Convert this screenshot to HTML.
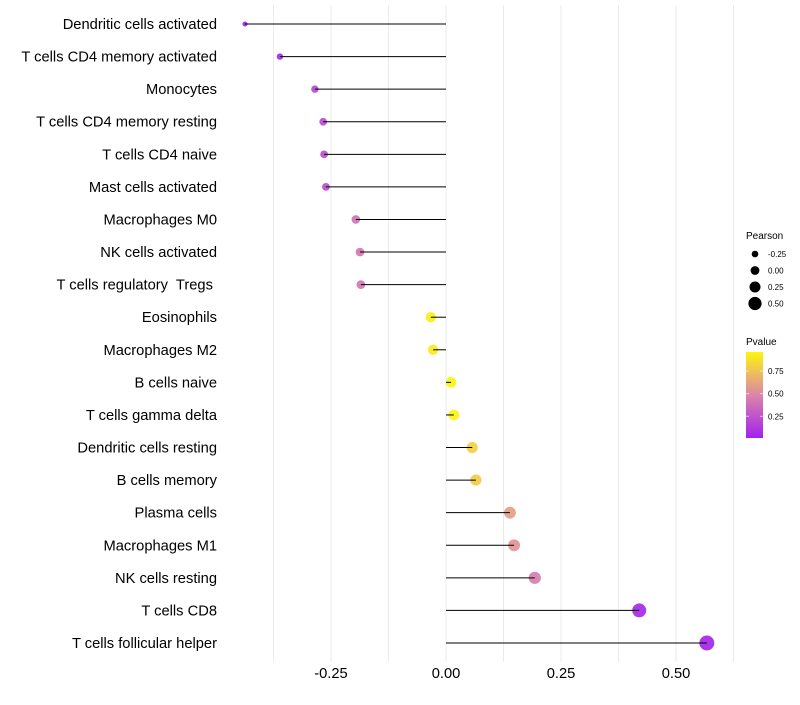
<!DOCTYPE html>
<html><head><meta charset="utf-8"><style>
body{margin:0;background:#fff;font-family:"Liberation Sans",sans-serif}
</style></head><body>
<svg id="chart" width="800" height="700" xmlns="http://www.w3.org/2000/svg" font-family="Liberation Sans, sans-serif">
<g id="grid"></g>
<g id="marks"></g>
<g id="ylabels"></g>
<g id="xlabels"></g>
<g id="legend"></g>
</svg>
<script>
const categories=["Dendritic cells activated","T cells CD4 memory activated","Monocytes","T cells CD4 memory resting","T cells CD4 naive","Mast cells activated","Macrophages M0","NK cells activated","T cells regulatory  Tregs ","Eosinophils","Macrophages M2","B cells naive","T cells gamma delta","Dendritic cells resting","B cells memory","Plasma cells","Macrophages M1","NK cells resting","T cells CD8","T cells follicular helper"];
const pearson=[-0.437,-0.361,-0.285,-0.267,-0.265,-0.261,-0.196,-0.187,-0.185,-0.033,-0.028,0.011,0.017,0.057,0.065,0.139,0.148,0.193,0.42,0.567];
const pvalue=[0.02,0.06,0.2,0.22,0.22,0.22,0.4,0.42,0.42,0.93,0.91,0.96,0.95,0.8,0.78,0.6,0.56,0.45,0.05,0.03];
const xTicks=[-0.25,0,0.25,0.5];
const xTickLabels=["-0.25","0.00","0.25","0.50"];
const gridVals=[-0.375,-0.25,-0.125,0,0.125,0.25,0.375,0.5,0.625];
const sizeLegend=[-0.25,0,0.25,0.5];
const sizeLegendLabels=["-0.25","0.00","0.25","0.50"];
const colorLegendVals=[0.25,0.5,0.75];

const NS="http://www.w3.org/2000/svg";
const x=v=>446+v*460;
const y=i=>24+i*(643-24)/19;
const r=v=>Math.sqrt(Math.max(2,28.1+49.3*v));
function lerp(a,b,t){return a.map((c,k)=>Math.round(c+(b[k]-c)*t));}
function col(p){
  const s=[[160,32,240],[221,136,168],[255,255,0]];
  let c=p<0.5?lerp(s[0],s[1],p/0.5):lerp(s[1],s[2],(p-0.5)/0.5);
  return `rgb(${c[0]},${c[1]},${c[2]})`;
}
function mk(tag,attrs,parent){const e=document.createElementNS(NS,tag);for(const k in attrs)e.setAttribute(k,attrs[k]);parent.appendChild(e);return e;}
const grid=document.getElementById('grid'),marks=document.getElementById('marks'),yl=document.getElementById('ylabels'),xl=document.getElementById('xlabels'),lg=document.getElementById('legend');
gridVals.forEach(v=>{
  const l=mk('line',{x1:x(v),x2:x(v),y1:5,y2:662,stroke:'#ebebeb','stroke-width':1},grid);
  
  
});
categories.forEach((c,i)=>{
  const cy=y(i);
  const pt=mk('circle',{cx:x(pearson[i]),cy:cy,r:r(pearson[i]),fill:col(pvalue[i]),'fill-opacity':0.92},marks);
  
  
  const ln=mk('line',{x1:x(0),x2:x(pearson[i]),y1:cy,y2:cy,stroke:'#000','stroke-width':1},marks);
  
  
  const t=mk('text',{x:217,y:cy+5,'text-anchor':'end','font-size':14.7,fill:'#000',style:'white-space:pre'},yl);
  t.textContent=c;
  
  
});
xTicks.forEach((v,i)=>{
  const t=mk('text',{x:x(v),y:678,'text-anchor':'middle','font-size':14.7,fill:'#000'},xl);
  t.textContent=xTickLabels[i];
  
  
});
let t=mk('text',{x:746,y:239,'font-size':10,fill:'#000'},lg);t.textContent='Pearson';


sizeLegend.forEach((v,i)=>{
  const cy=254+i*16.5;
  const c=mk('circle',{cx:755,cy:cy,r:3.3+i*1.1,fill:'#000'},lg);
  
  
  const tt=mk('text',{x:768,y:cy+3,'font-size':8,fill:'#000'},lg);tt.textContent=sizeLegendLabels[i];
  
  
});
t=mk('text',{x:746,y:345,'font-size':10,fill:'#000'},lg);t.textContent='Pvalue';


const defs=mk('defs',{},lg);
const g=mk('linearGradient',{id:'pg',x1:0,y1:1,x2:0,y2:0},defs);
[0,0.25,0.5,0.75,1].forEach(s=>mk('stop',{offset:s,'stop-color':col(0.01+s*0.95)},g));
const bar=mk('rect',{x:746,y:352,width:17,height:86,fill:'url(#pg)'},lg);


colorLegendVals.forEach(v=>{
  const yy=438-(v-0.01)/0.95*86;
  mk('line',{x1:746,x2:749,y1:yy,y2:yy,stroke:'#fff','stroke-opacity':0.6},lg);
  mk('line',{x1:760,x2:763,y1:yy,y2:yy,stroke:'#fff','stroke-opacity':0.6},lg);
  const tt=mk('text',{x:768,y:yy+3,'font-size':8,fill:'#000'},lg);tt.textContent=v.toFixed(2);
  
  
});
</script>
</body></html>
